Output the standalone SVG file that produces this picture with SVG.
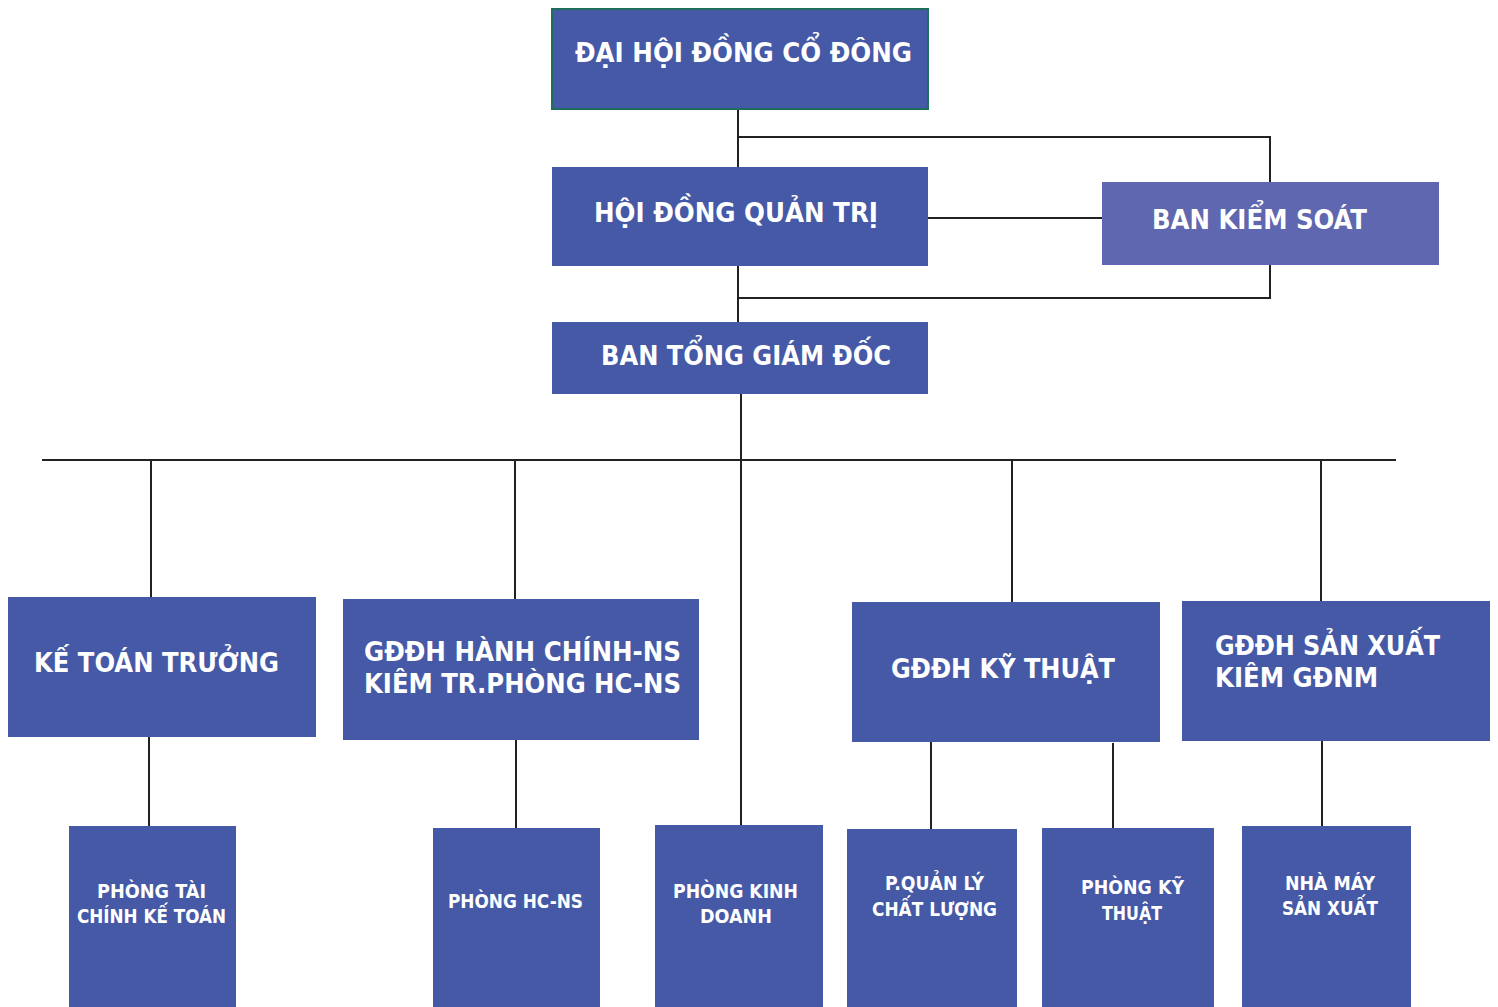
<svg xmlns="http://www.w3.org/2000/svg" width="1498" height="1007" viewBox="0 0 1498 1007">
<style>
.box{fill:#4559A6}
.box2{fill:#5E67AF}
.t{font-family:"DejaVu Sans","Liberation Sans",sans-serif;font-weight:bold;font-stretch:condensed;fill:#fff;font-size:26px}
.s{font-family:"DejaVu Sans","Liberation Sans",sans-serif;font-weight:bold;font-stretch:condensed;fill:#fff;font-size:20px}
.c{stroke:#222;stroke-width:2;fill:none}
</style>
<rect width="1498" height="1007" fill="#fff"/>
<g id="connectors" class="c">
<path d="M738 109V167M738 137H1270V182"/>
<path d="M928 218H1102"/>
<path d="M738 266V322M738 298H1270V265"/>
<path d="M741 394V825"/>
<path d="M42 460H1396"/>
<path d="M151 460V597M515 460V599M1012 460V602M1321 460V601"/>
<path d="M149 737V826M516 740V828M931 742V829M1113 743V828M1322 741V826"/>
</g>
<g id="dhdcd"><rect class="box" x="552" y="9" width="376" height="100" stroke="#1E6E5C" stroke-width="2"/><text class="t" x="575" y="62" textLength="337" lengthAdjust="spacingAndGlyphs">ĐẠI HỘI ĐỒNG CỔ ĐÔNG</text></g>
<g id="hdqt"><rect class="box" x="552" y="167" width="376" height="99"/><text class="t" x="594" y="222" textLength="284" lengthAdjust="spacingAndGlyphs">HỘI ĐỒNG QUẢN TRỊ</text></g>
<g id="bks"><rect class="box2" x="1102" y="182" width="337" height="83"/><text class="t" x="1152" y="229" textLength="215" lengthAdjust="spacingAndGlyphs">BAN KIỂM SOÁT</text></g>
<g id="btgd"><rect class="box" x="552" y="322" width="376" height="72"/><text class="t" x="601" y="365" textLength="290" lengthAdjust="spacingAndGlyphs">BAN TỔNG GIÁM ĐỐC</text></g>
<g id="ktt"><rect class="box" x="8" y="597" width="308" height="140"/><text class="t" x="34" y="672" textLength="245" lengthAdjust="spacingAndGlyphs">KẾ TOÁN TRƯỞNG</text></g>
<g id="gddh-hc"><rect class="box" x="343" y="599" width="356" height="141"/><text class="t" x="364" y="661" textLength="317" lengthAdjust="spacingAndGlyphs">GĐĐH HÀNH CHÍNH-NS</text><text class="t" x="364" y="693" textLength="317" lengthAdjust="spacingAndGlyphs">KIÊM TR.PHÒNG HC-NS</text></g>
<g id="gddh-kt"><rect class="box" x="852" y="602" width="308" height="140"/><text class="t" x="891" y="678" textLength="224" lengthAdjust="spacingAndGlyphs">GĐĐH KỸ THUẬT</text></g>
<g id="gddh-sx"><rect class="box" x="1182" y="601" width="308" height="140"/><text class="t" x="1215" y="655" textLength="225" lengthAdjust="spacingAndGlyphs">GĐĐH SẢN XUẤT</text><text class="t" x="1215" y="687" textLength="163" lengthAdjust="spacingAndGlyphs">KIÊM GĐNM</text></g>
<g id="p-tckt"><rect class="box" x="69" y="826" width="167" height="181"/><text class="s" x="97" y="898" textLength="109" lengthAdjust="spacingAndGlyphs">PHÒNG TÀI</text><text class="s" x="77" y="923" textLength="149" lengthAdjust="spacingAndGlyphs">CHÍNH KẾ TOÁN</text></g>
<g id="p-hcns"><rect class="box" x="433" y="828" width="167" height="179"/><text class="s" x="448" y="908" textLength="135" lengthAdjust="spacingAndGlyphs">PHÒNG HC-NS</text></g>
<g id="p-kd"><rect class="box" x="655" y="825" width="168" height="182"/><text class="s" x="673" y="898" textLength="125" lengthAdjust="spacingAndGlyphs">PHÒNG KINH</text><text class="s" x="700" y="923" textLength="72" lengthAdjust="spacingAndGlyphs">DOANH</text></g>
<g id="p-qlcl"><rect class="box" x="847" y="829" width="170" height="178"/><text class="s" x="885" y="890" textLength="99" lengthAdjust="spacingAndGlyphs">P.QUẢN LÝ</text><text class="s" x="872" y="916" textLength="125" lengthAdjust="spacingAndGlyphs">CHẤT LƯỢNG</text></g>
<g id="p-kythuat"><rect class="box" x="1042" y="828" width="172" height="179"/><text class="s" x="1081" y="894" textLength="103" lengthAdjust="spacingAndGlyphs">PHÒNG KỸ</text><text class="s" x="1102" y="920" textLength="60" lengthAdjust="spacingAndGlyphs">THUẬT</text></g>
<g id="nmsx"><rect class="box" x="1242" y="826" width="169" height="181"/><text class="s" x="1285" y="890" textLength="90" lengthAdjust="spacingAndGlyphs">NHÀ MÁY</text><text class="s" x="1282" y="915" textLength="96" lengthAdjust="spacingAndGlyphs">SẢN XUẤT</text></g>
</svg>
